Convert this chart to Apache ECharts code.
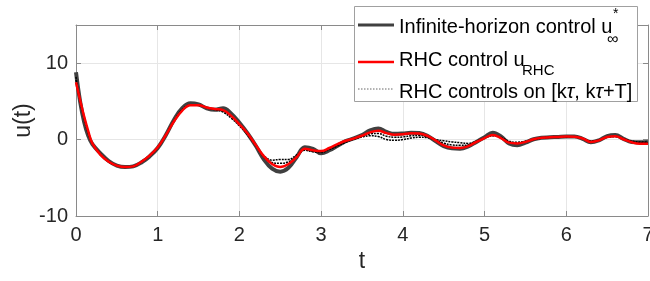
<!DOCTYPE html>
<html>
<head>
<meta charset="utf-8">
<script src="https://cdn.jsdelivr.net/npm/echarts@6/dist/echarts.min.js"></script>
<style>
  html, body { margin: 0; padding: 0; background: #fff; }
  #chart { width: 650px; height: 281px; }
</style>
</head>
<body>
<div id="chart"></div>
<script>
// 时间网格
const tGrid = [0, 0.05, 0.1, 0.15, 0.2, 0.3, 0.4, 0.5, 0.6, 0.7, 0.8, 0.9, 1.0,
  1.1, 1.2, 1.3, 1.4, 1.5, 1.6, 1.7, 1.8, 1.9, 2.0, 2.1, 2.2, 2.3, 2.4, 2.5,
  2.6, 2.7, 2.8, 2.9, 3.0, 3.1, 3.2, 3.3, 3.4, 3.5, 3.6, 3.7, 3.8, 3.9, 4.0,
  4.1, 4.2, 4.3, 4.4, 4.5, 4.6, 4.7, 4.8, 4.9, 5.0, 5.1, 5.2, 5.3, 5.4, 5.5,
  5.6, 5.7, 5.8, 5.9, 6.0, 6.1, 6.2, 6.3, 6.4, 6.5, 6.6, 6.7, 6.8, 6.9, 7.0];

// 无限时域控制 u*∞
const infU = [8.8, 5.0, 2.3, 0.5, -0.6, -1.8, -2.8, -3.4, -3.6, -3.5, -3.0, -2.2, -1.1,
  0.6, 2.6, 4.1, 4.75, 4.6, 4.1, 3.9, 4.1, 3.4, 2.2, 0.8, -0.8, -2.6, -3.8, -4.2,
  -3.7, -2.3, -1.0, -1.2, -1.8, -1.4, -0.8, -0.2, 0.15, 0.6, 1.2, 1.45, 1.0, 0.75, 0.8,
  0.9, 0.85, 0.5, -0.2, -0.85, -1.15, -1.2, -0.9, -0.3, 0.3, 0.9, 0.4, -0.5, -0.75, -0.4,
  0.05, 0.25, 0.3, 0.35, 0.4, 0.4, 0.1, -0.35, -0.1, 0.45, 0.6, 0.1, -0.3, -0.35, -0.3];

// RHC 控制 u_RHC
const rhcU = [7.5, 5.2, 3.0, 1.1, -0.5, -2.0, -2.9, -3.4, -3.6, -3.5, -2.9, -2.1, -1.0,
  0.6, 2.4, 3.8, 4.5, 4.5, 4.2, 4.0, 3.85, 3.1, 2.0, 0.8, -0.7, -2.2, -3.2, -3.6,
  -3.2, -2.3, -1.2, -1.4, -1.5, -1.1, -0.6, -0.15, 0.15, 0.5, 0.95, 1.15, 0.85, 0.65, 0.7,
  0.83, 0.8, 0.5, -0.1, -0.75, -1.05, -1.1, -0.85, -0.3, 0.2, 0.6, 0.2, -0.4, -0.5, -0.3,
  0.05, 0.25, 0.3, 0.35, 0.4, 0.38, 0.15, -0.3, -0.1, 0.35, 0.45, 0.05, -0.35, -0.55, -0.55];

// 各窗口 [kτ, kτ+T] 上的 RHC 控制（带状区域的外缘和中间）
const winOuterU = [8.2, 5.0, 2.7, 0.8, -0.5, -1.9, -2.85, -3.4, -3.6, -3.5, -2.95, -2.15, -1.05,
  0.6, 2.5, 3.9, 4.55, 4.5, 4.15, 3.9, 3.6, 2.8, 1.8, 0.6, -0.8, -2.1, -2.7, -2.6,
  -2.6, -2.0, -1.4, -1.6, -1.7, -1.3, -0.85, -0.35, 0.05, 0.35, 0.5, 0.4, 0.0, -0.1, 0.0,
  0.2, 0.3, 0.25, 0.0, -0.15, -0.3, -0.4, -0.5, -0.2, 0.2, 0.5, 0.3, -0.2, -0.35, -0.2,
  0.0, 0.2, 0.3, 0.35, 0.35, 0.35, 0.15, -0.2, -0.05, 0.3, 0.4, 0.1, -0.2, -0.3, -0.3];
const winMidU = [7.8, 5.1, 2.9, 1.0, -0.5, -1.95, -2.9, -3.4, -3.6, -3.5, -2.9, -2.1, -1.0,
  0.6, 2.45, 3.85, 4.5, 4.5, 4.2, 3.95, 3.7, 2.95, 1.9, 0.7, -0.75, -2.3, -3.0, -3.1,
  -2.9, -2.2, -1.3, -1.55, -1.6, -1.2, -0.75, -0.25, 0.1, 0.45, 0.75, 0.8, 0.45, 0.3, 0.35,
  0.5, 0.55, 0.4, -0.05, -0.45, -0.7, -0.75, -0.7, -0.25, 0.2, 0.55, 0.25, -0.3, -0.45, -0.25,
  0.02, 0.22, 0.3, 0.35, 0.38, 0.36, 0.15, -0.25, -0.08, 0.32, 0.42, 0.08, -0.28, -0.42, -0.42];

// 坐标轴刻度
const xTicks = [0, 1, 2, 3, 4, 5, 6, 7];
const yTicks = [-10, 0, 10];

const FONT = '"Liberation Sans", Arial, sans-serif';
const AXIS_COLOR = '#8a8a8a';
const TEXT_COLOR = '#262626';

function pairs(values) {
    return tGrid.map((t, i) => [t, values[i]]);
}

const chart = echarts.init(document.getElementById('chart'));

const axisCommon = {
    axisLine: { show: true, onZero: false, lineStyle: { color: AXIS_COLOR, width: 1 } },
    axisTick: { show: true, inside: true, length: 5, lineStyle: { color: AXIS_COLOR } }
};

const windowStyle = { color: '#000', width: 1.5, type: [2, 1] };

const option = {
    animation: false,
    grid: { left: 76, right: 2, top: 25, bottom: 65, outerBoundsMode: 'none', containLabel: false },
    xAxis: [{
        type: 'value',
        min: xTicks[0], max: xTicks[xTicks.length - 1], interval: 1,
        name: 't', nameLocation: 'middle', nameGap: 34, nameMoveOverlap: false,
        nameTextStyle: { fontFamily: FONT, fontSize: 23, color: TEXT_COLOR },
        ...axisCommon,
        axisLabel: { fontFamily: FONT, fontSize: 20, color: TEXT_COLOR, margin: 9 },
        splitLine: { show: true, lineStyle: { color: '#e6e6e6' } }
    }, {
        type: 'value', position: 'top',
        min: xTicks[0], max: xTicks[xTicks.length - 1], interval: 1,
        ...axisCommon,
        axisLabel: { show: false }, splitLine: { show: false }
    }],
    yAxis: [{
        type: 'value',
        min: yTicks[0], max: 15, interval: 10,
        name: 'u(t)', nameLocation: 'middle', nameGap: 41, nameRotate: 90, nameMoveOverlap: false,
        nameTextStyle: { fontFamily: FONT, fontSize: 23, color: TEXT_COLOR },
        ...axisCommon,
        axisLabel: { fontFamily: FONT, fontSize: 20, color: TEXT_COLOR, margin: 8, showMaxLabel: false,
            formatter: v => (yTicks.indexOf(v) >= 0 ? String(v) : '') },
        splitLine: { show: true, lineStyle: { color: '#e6e6e6' } }
    }, {
        type: 'value', position: 'right',
        min: yTicks[0], max: 15, interval: 10,
        ...axisCommon,
        axisLabel: { show: false }, splitLine: { show: false }
    }],
    series: [{
        name: 'Infinite-horizon control',
        type: 'line', data: pairs(infU), smooth: 0.4, showSymbol: false,
        lineStyle: { color: '#404040', width: 4 }
    }, {
        name: 'RHC controls on windows',
        type: 'line', data: pairs(winOuterU), smooth: 0.4, showSymbol: false,
        lineStyle: windowStyle
    }, {
        name: 'RHC controls on windows (mid)',
        type: 'line', data: pairs(winMidU), smooth: 0.4, showSymbol: false,
        lineStyle: windowStyle
    }, {
        name: 'RHC control',
        type: 'line', data: pairs(rhcU), smooth: 0.4, showSymbol: false,
        lineStyle: { color: '#ff0000', width: 2.5 }
    }],
    graphic: [
        // 图例框
        { type: 'rect', shape: { x: 354.5, y: 6.5, width: 283, height: 95 },
          style: { fill: '#fff', stroke: '#a0a0a0', lineWidth: 1 }, z: 100 },
        { type: 'line', shape: { x1: 358, y1: 25, x2: 394, y2: 25 },
          style: { stroke: '#404040', lineWidth: 3 }, z: 101 },
        { type: 'line', shape: { x1: 358, y1: 62, x2: 394, y2: 62 },
          style: { stroke: '#ff0000', lineWidth: 2.5 }, z: 101 },
        { type: 'line', shape: { x1: 358, y1: 89, x2: 394, y2: 89 },
          style: { stroke: '#666', lineWidth: 1, lineDash: [1.5, 1.5] }, z: 101 },
        { type: 'text', x: 399, y: 27, z: 101,
          style: { text: 'Infinite-horizon control u', font: '20px ' + FONT, fill: '#000', verticalAlign: 'middle' } },
        { type: 'text', x: 613, y: 14, z: 101,
          style: { text: '*', font: '14px ' + FONT, fill: '#000', verticalAlign: 'middle' } },
        { type: 'text', x: 607, y: 40, z: 101,
          style: { text: '∞', font: '16px ' + FONT, fill: '#000', verticalAlign: 'middle' } },
        { type: 'text', x: 399, y: 60, z: 101,
          style: { text: 'RHC control u', font: '20px ' + FONT, fill: '#000', verticalAlign: 'middle' } },
        { type: 'text', x: 522, y: 71, z: 101,
          style: { text: 'RHC', font: '15px ' + FONT, fill: '#000', verticalAlign: 'middle' } },
        { type: 'text', x: 399, y: 92, z: 101,
          style: { text: 'RHC controls on [k{it|τ}, k{it|τ}+T]', font: '20px ' + FONT, fill: '#000',
                   verticalAlign: 'middle',
                   rich: { it: { fontStyle: 'italic', fontSize: 20, fontFamily: FONT, fill: '#000' } } } }
    ]
};

chart.setOption(option);
</script>
</body>
</html>
